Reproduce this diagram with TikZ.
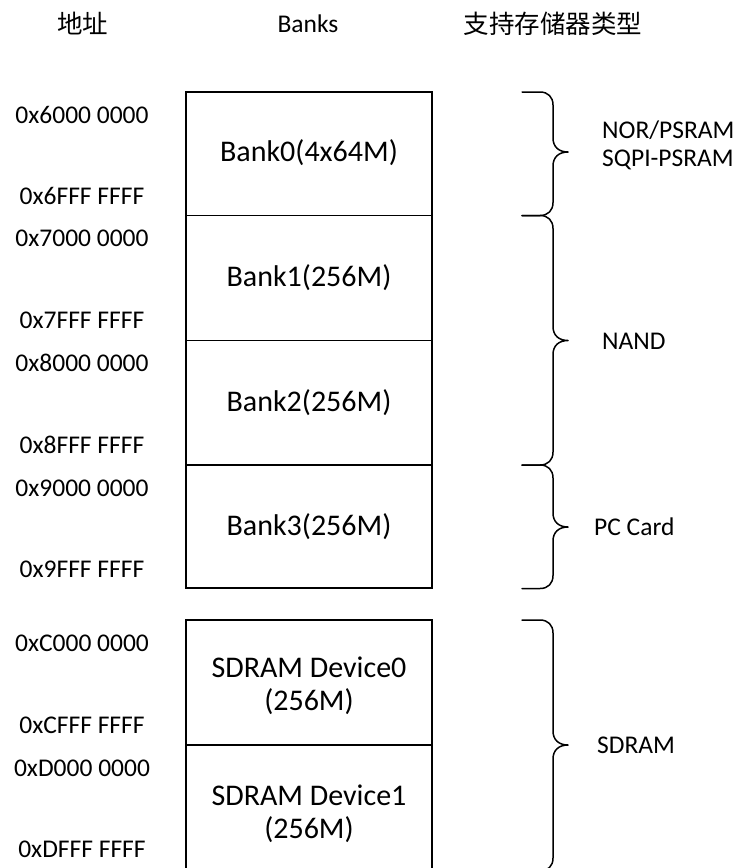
\documentclass[tikz,border=0pt]{standalone}
\usepackage{fontspec}
\setmainfont{Carlito}
\newfontfamily\cjk{Noto Sans CJK SC}
\newcommand{\mybrace}[3]{%
  \draw[bracestyle] (522,#1) -- (540,#1) .. controls (548,#1) and (553,#1+5) .. (553,#1+13)
    -- (553,#3-14) .. controls (553,#3-5) and (559,#3) .. (568,#3)
    .. controls (559,#3) and (553,#3+5) .. (553,#3+14)
    -- (553,#2-13) .. controls (553,#2-5) and (548,#2) .. (540,#2) -- (522,#2);}
\begin{document}
\begin{tikzpicture}[x=1pt,y=-1pt,
  smalltext/.style={font=\fontsize{25.5}{28}\selectfont, inner sep=0pt},
  cjktext/.style={font=\cjk\fontsize{25.5}{28}\selectfont, inner sep=0pt},
  banktext/.style={font=\fontsize{30}{33}\selectfont, align=center, inner sep=0pt},
  bankbox/.style={draw, line width=1.6pt, minimum width=246pt, inner sep=0pt},
  bracestyle/.style={line width=1.5pt, line cap=round, line join=round},
  addr/.style={smalltext, anchor=center},
  typelabel/.style={smalltext, anchor=west, align=left}]
\useasboundingbox (0,0) rectangle (740,868);

% headers
\node[cjktext] (h1) at (82.5,24) {地址};
\node[smalltext] (h2) at (308,24) {Banks};
\node[cjktext] (h3) at (553,24) {支持存储器类型};

% bank boxes
\node[bankbox, minimum height=123.5pt] (b0) at (309,153.75) {};
\node[bankbox, minimum height=125pt] (b1) at (309,278) {};
\node[bankbox, minimum height=124.5pt] (b2) at (309,402.75) {};
\node[bankbox, minimum height=123pt] (b3) at (309,526.5) {};
\node[banktext] (l0) at (309,153) {Bank0(4x64M)};
\node[banktext] (l1) at (309,278) {Bank1(256M)};
\node[banktext] (l2) at (309,403) {Bank2(256M)};
\node[banktext] (l3) at (309,527) {Bank3(256M)};

% sdram boxes
\node[bankbox, minimum height=125pt] (s0) at (309,682.5) {};
\node[bankbox, minimum height=125pt] (s1) at (309,807.5) {};
\node[banktext] (m0) at (309,686) {SDRAM Device0\\(256M)};
\node[banktext] (m1) at (309,814) {SDRAM Device1\\(256M)};

% addresses
\node[addr] (a1) at (82,115) {0x6000 0000};
\node[addr] (a2) at (82,196) {0x6FFF FFFF};
\node[addr] (a3) at (82,238) {0x7000 0000};
\node[addr] (a4) at (82,320) {0x7FFF FFFF};
\node[addr] (a5) at (82,363) {0x8000 0000};
\node[addr] (a6) at (82,445) {0x8FFF FFFF};
\node[addr] (a7) at (82,488) {0x9000 0000};
\node[addr] (a8) at (82,569) {0x9FFF FFFF};
\node[addr] (a9) at (82,643) {0xC000 0000};
\node[addr] (a10) at (82,725) {0xCFFF FFFF};
\node[addr] (a11) at (82,768) {0xD000 0000};
\node[addr] (a12) at (82,849) {0xDFFF FFFF};

% braces
\mybrace{92}{215.5}{152}
\mybrace{215.5}{465}{340.5}
\mybrace{465}{588.5}{527}
\mybrace{620}{871}{745}

% type labels
\node[typelabel] (t1) at (602,145) {NOR/PSRAM\\SQPI-PSRAM};
\node[typelabel] (t2) at (602,341) {NAND};
\node[typelabel] (t3) at (594,527) {PC Card};
\node[typelabel] (t4) at (597,745) {SDRAM};
\end{tikzpicture}
\end{document}
